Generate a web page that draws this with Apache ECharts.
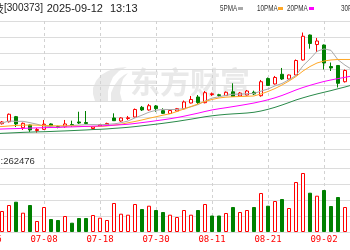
<!DOCTYPE html>
<html><head><meta charset="utf-8">
<script src="https://cdn.jsdelivr.net/npm/echarts@6/dist/echarts.min.js"></script>
<style>
html,body{margin:0;padding:0;width:350px;height:250px;overflow:hidden;background:#fff;position:relative}
#c{position:absolute;left:-40px;top:0;width:430px;height:250px}
</style>
</head><body><div id="c"></div>
<script>
const categories = ['06-26','06-27','06-30','07-01','07-02','07-03','07-04','07-07','07-08','07-09','07-10','07-11','07-14','07-15','07-16','07-17','07-18','07-21','07-22','07-23','07-24','07-25','07-28','07-29','07-30','07-31','08-01','08-04','08-05','08-06','08-07','08-08','08-11','08-12','08-13','08-14','08-15','08-18','08-19','08-20','08-21','08-22','08-25','08-26','08-27','08-28','08-29','09-01','09-02','09-03','09-04','09-05','09-08'];

// [open, close, low, high]
const ohlc = [
[47.13,47.25,46.88,47.50],[47.00,47.25,46.88,47.25],[47.16,47.38,47.06,47.50],[47.41,48.34,47.31,48.44],
[48.04,47.13,46.75,48.13],[46.66,47.21,46.38,47.31],[47.00,46.38,46.13,47.06],[46.31,46.44,46.04,46.63],
[46.46,47.09,46.38,47.63],[47.13,46.91,46.71,47.21],[46.81,46.71,46.59,46.91],[46.79,47.13,46.66,47.63],
[47.06,46.94,46.79,47.54],[47.38,47.25,47.13,48.66],[47.31,47.19,47.09,48.75],[46.56,46.75,46.46,46.88],
[46.88,47.03,46.79,47.09],[47.00,47.19,46.91,47.29],[47.88,47.54,47.50,48.46],[47.50,47.88,47.41,47.96],
[47.81,47.90,47.63,48.13],[48.00,48.94,47.94,49.06],[49.21,48.88,48.75,49.38],[48.88,49.41,48.79,49.63],
[49.38,49.04,48.66,49.50],[48.79,48.46,48.38,49.09],[48.44,48.81,48.38,48.88],[48.75,49.04,48.66,49.13],
[49.03,49.88,48.96,50.06],[49.75,50.19,49.69,50.63],[50.50,49.81,49.63,50.75],[49.79,51.04,49.71,51.25],
[50.81,50.90,50.63,51.06],[50.78,50.69,50.54,50.90],[50.69,51.09,50.63,51.19],[51.15,50.56,50.50,52.21],
[50.63,51.00,50.56,51.13],[50.75,51.25,50.69,51.38],[51.09,50.88,50.75,51.29],[50.66,52.41,50.54,52.63],
[52.81,51.94,51.88,52.94],[52.13,52.94,52.06,53.13],[53.34,52.75,52.63,54.13],[52.75,53.25,52.69,53.31],
[53.25,55.06,53.19,55.19],[55.13,58.09,55.06,58.56],[58.25,57.19,56.54,58.31],[57.06,57.50,56.13,57.88],
[57.00,54.75,53.94,57.06],[54.31,54.13,53.75,54.81],[54.44,52.21,51.69,54.50],[52.41,53.81,52.31,53.94],
[54.13,54.75,54.00,55.00]
];

const ma5 = [47.13,47.19,47.25,47.50,47.46,47.46,47.29,47.10,46.85,46.80,46.70,46.85,46.95,46.99,47.04,47.05,47.03,47.08,47.14,47.28,47.50,47.89,48.23,48.60,48.84,48.95,48.93,48.95,49.05,49.28,49.55,49.99,50.36,50.53,50.70,50.85,50.85,50.91,50.95,51.23,51.50,51.89,52.19,52.66,53.19,54.41,55.26,56.21,56.51,56.33,55.15,54.48,53.93];
const ma10 = [46.75,46.78,46.81,46.88,46.94,46.98,47.00,46.98,46.94,46.91,46.90,46.90,46.88,46.84,46.81,46.80,46.81,46.88,46.98,47.09,47.28,47.44,47.63,47.84,48.03,48.23,48.40,48.69,49.00,49.31,49.63,49.94,50.19,50.38,50.48,50.53,50.56,50.59,50.63,50.88,51.19,51.56,52.00,52.50,53.06,53.75,54.31,54.75,55.00,55.13,55.19,55.19,55.19];
const ma20 = [46.44,46.46,46.50,46.53,46.55,46.58,46.61,46.64,46.66,46.69,46.71,46.74,46.76,46.79,46.83,46.85,46.88,46.93,46.98,47.03,47.09,47.19,47.30,47.41,47.53,47.65,47.78,47.93,48.10,48.29,48.48,48.69,48.88,49.03,49.16,49.30,49.44,49.59,49.75,49.94,50.15,50.40,50.69,51.03,51.38,51.69,51.96,52.21,52.44,52.63,52.80,52.96,53.13];
const ma30 = [45.85,45.90,45.96,46.00,46.04,46.08,46.11,46.14,46.16,46.19,46.23,46.26,46.30,46.34,46.38,46.43,46.46,46.51,46.58,46.64,46.71,46.80,46.90,47.00,47.10,47.21,47.33,47.45,47.59,47.73,47.88,48.03,48.15,48.25,48.33,48.39,48.44,48.50,48.59,48.75,48.96,49.21,49.50,49.81,50.13,50.40,50.65,50.88,51.09,51.30,51.53,51.75,52.00];

const volumes = [250000,280000,262500,337500,378750,241250,337500,137500,312500,162500,150000,200000,116250,175000,175000,212500,178750,150000,362500,228750,216250,350000,287500,328750,275000,250000,216250,187500,275000,216250,275000,350000,206250,206250,237500,312500,250000,275000,312500,487500,328750,387500,412500,300000,625000,737500,491250,453750,525000,325000,437500,312500,275000];
const volUp = [1,0,1,1,0,1,0,1,1,0, 0,1,0,0,0,1,1,1,1,1, 1,1,0,1,0,0,1,1,1,1, 0,1,0,0,1,0,1,1,0,1, 0,1,0,1,1,1,0,1,0,0, 0,1,1];

const legendNames = ['5PMA','10PMA','20PMA','30PMA'];
const titleName = '扬杰科技';
const titleCode = '[300373]';
const titleDate = '2025-09-12';
const titleTime = '13:13';
const volLabel = ':262476';

const OFF = 40;
const UP = '#ff0000', DOWN = '#008000';
const maColors = ['#a9a9a9', '#ffa726', '#ff00ff', '#2a8a4a'];
const gridLine = '#dcdcdc';
const wm = '#e9e9e9';

const volData = volumes.map((v, i) => ({
  value: v,
  itemStyle: volUp[i] ? {color: '#ffffff', borderColor: UP, borderWidth: 1}
                      : {color: DOWN, borderColor: DOWN, borderWidth: 1}
}));

const G = {left: 28, right: 38};
const hiddenCat = (gi) => ({
  gridIndex: gi, type: 'category', data: categories, boundaryGap: false,
  axisLine: {show: false}, axisTick: {show: false}, axisLabel: {show: false}, splitLine: {show: false}
});

const chart = echarts.init(document.getElementById('c'), null, {renderer: 'canvas'});
const legendX = [220, 257, 287, 341];
const markerX = [238, 278, 309, 372];
const legendChildren = [];
legendNames.forEach((n, i) => {
  legendChildren.push({type: 'text', x: legendX[i], y: 8.5, scaleX: 0.74,
    style: {text: n, fontSize: 8.5, fontFamily: 'Liberation Sans', fill: '#333', verticalAlign: 'middle', align: 'left'}});
  legendChildren.push({type: 'rect', shape: {x: markerX[i], y: 7, width: 5, height: 3}, style: {fill: maColors[i]}});
});

chart.setOption({
  animation: false,
  backgroundColor: '#ffffff',
  grid: [
    Object.assign({top: 21, height: 128}, G),
    Object.assign({top: 168, height: 64}, G),
    Object.assign({top: 21, height: 211}, G)
  ],
  xAxis: [
    hiddenCat(0),
    Object.assign(hiddenCat(1), {axisLabel: {show: true, interval: 7, color: UP, fontSize: 9, fontFamily: 'DejaVu Sans Mono', margin: 3}}),
    Object.assign(hiddenCat(2), {splitLine: {show: true, interval: 7, lineStyle: {color: '#d2d2d2', width: 1, type: [3, 3]}}})
  ],
  yAxis: [
    {gridIndex: 0, type: 'value', min: 44, max: 60, interval: 2, axisLabel: {show: false}, axisLine: {show: false}, axisTick: {show: false},
     splitLine: {show: true, lineStyle: {color: gridLine, width: 1}}},
    {gridIndex: 1, type: 'value', min: 0, max: 800000, interval: 200000, axisLabel: {show: false}, axisLine: {show: false}, axisTick: {show: false},
     splitLine: {show: true, lineStyle: {color: gridLine, width: 1}}},
    {gridIndex: 2, type: 'value', min: 0, max: 1, axisLabel: {show: false}, axisLine: {show: false}, axisTick: {show: false}, splitLine: {show: false}}
  ],
  graphic: [{
    type: 'group', x: OFF, y: 0, silent: true,
    children: [
      {type: 'polygon', z: -1, shape: {points: [[95,101],[93,94],[93,88],[96,81],[101,75],[108,71],[116,68],[127,67],[119,71],[113,77],[110,84],[108,91],[108,101]]}, style: {fill: wm}},
      {type: 'polygon', z: -1, shape: {points: [[111,101],[111,93],[114,86],[119,79],[124,75],[128,73],[123,79],[121,86],[120,93],[122,101]]}, style: {fill: wm}},
      {type: 'text', z: -1, x: 130, y: 82, style: {text: '东方财富', fontSize: 30, fontWeight: 'bold', fontFamily: 'Noto Sans CJK SC', fill: wm, verticalAlign: 'middle'}},
      {type: 'text', x: 4, y: 8.5, style: {text: titleName, fontSize: 11, fontFamily: 'Noto Sans CJK SC', fill: '#222', align: 'right', verticalAlign: 'middle'}},
      {type: 'text', x: 4, y: 8.5, style: {text: titleCode, fontSize: 10, fontFamily: 'Liberation Sans', fill: '#222', verticalAlign: 'middle'}},
      {type: 'text', x: 46.7, y: 8.5, style: {text: titleDate, fontSize: 11, fontFamily: 'Liberation Sans', fill: '#222', verticalAlign: 'middle'}},
      {type: 'text', x: 110, y: 8.5, style: {text: titleTime, fontSize: 11, fontFamily: 'Liberation Sans', fill: '#222', verticalAlign: 'middle'}},
      {type: 'text', x: 0.5, y: 161, style: {text: '成交量', fontSize: 10, fontFamily: 'Noto Sans CJK SC', fill: '#333', align: 'right', verticalAlign: 'middle'}},
      {type: 'text', x: 0.5, y: 161, style: {text: volLabel, fontSize: 9.5, fontFamily: 'Liberation Sans', fill: '#333', verticalAlign: 'middle'}}
    ].concat(legendChildren)
  }],
  series: [
    {type: 'line', xAxisIndex: 2, yAxisIndex: 2, data: [], silent: true},
    {type: 'candlestick', xAxisIndex: 0, yAxisIndex: 0, data: ohlc, barWidth: 4,
     itemStyle: {color: '#ffffff', color0: DOWN, borderColor: UP, borderColor0: DOWN, borderWidth: 1}},
    {type: 'bar', xAxisIndex: 1, yAxisIndex: 1, data: volData, barWidth: 4},
    {type: 'line', name: legendNames[0], data: ma5, symbol: 'none', lineStyle: {width: 1, color: maColors[0]}, itemStyle: {color: maColors[0]}},
    {type: 'line', name: legendNames[1], data: ma10, symbol: 'none', lineStyle: {width: 1, color: maColors[1]}, itemStyle: {color: maColors[1]}},
    {type: 'line', name: legendNames[2], data: ma20, symbol: 'none', lineStyle: {width: 1, color: maColors[2]}, itemStyle: {color: maColors[2]}},
    {type: 'line', name: legendNames[3], data: ma30, symbol: 'none', lineStyle: {width: 1, color: maColors[3]}, itemStyle: {color: maColors[3]}}
  ]
});
</script>
</body></html>
